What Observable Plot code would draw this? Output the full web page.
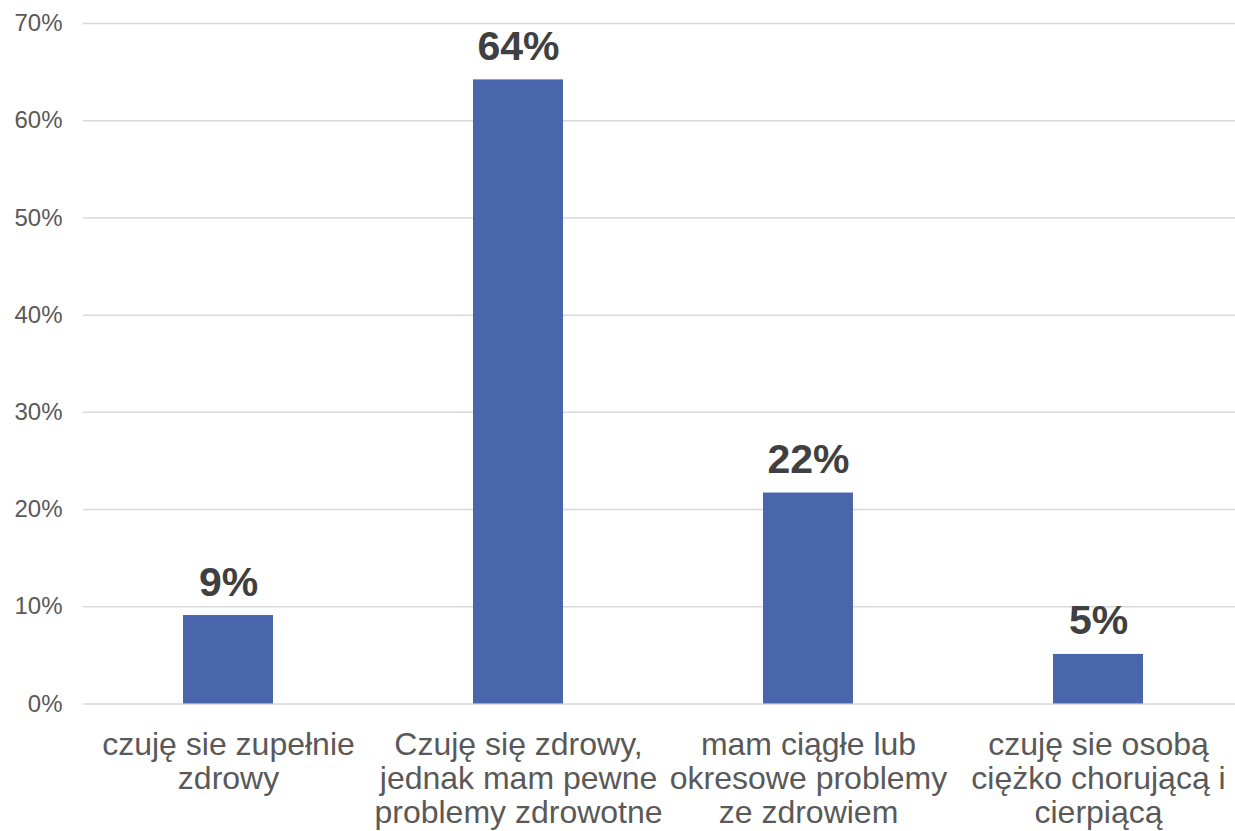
<!DOCTYPE html>
<html lang="pl">
<head>
<meta charset="utf-8">
<script src="https://cdn.jsdelivr.net/npm/d3@7"></script>
<script src="https://cdn.jsdelivr.net/npm/@observablehq/plot@0.6"></script>
<style>
  html, body { margin: 0; padding: 0; background: #fff; overflow: hidden; }
  svg { display: block; }
</style>
</head>
<body>
<div id="chart"></div>
<script>
// Self-assessed health: share of respondents per answer
const categories = [
  "czuję sie zupełnie zdrowy",
  "Czuję się zdrowy, jednak mam pewne problemy zdrowotne",
  "mam ciągłe lub okresowe problemy ze zdrowiem",
  "czuję sie osobą ciężko chorującą i cierpiącą"
];
const tickLabels = [
  "czuję sie zupełnie\nzdrowy",
  "Czuję się zdrowy,\njednak mam pewne\nproblemy zdrowotne",
  "mam ciągłe lub\nokresowe problemy\nze zdrowiem",
  "czuję sie osobą\nciężko chorującą i\ncierpiącą"
];
const values = [9.1, 64.2, 21.7, 5.1];
const yTicks = [0, 10, 20, 30, 40, 50, 60, 70];

const data = categories.map((category, i) => ({category, value: values[i]}));
const wrapped = new Map(categories.map((c, i) => [c, tickLabels[i]]));

const chart = Plot.plot({
  width: 1235,
  height: 831,
  marginLeft: 83,
  marginRight: 0,
  marginTop: 23,
  marginBottom: 127.5,
  style: {fontFamily: "'Liberation Sans', Arial, sans-serif", background: "#fff", overflow: "visible"},
  x: {domain: categories, range: [83, 1243], paddingInner: 0.69, paddingOuter: 0.345, label: null},
  y: {domain: [0, 70], label: null},
  marks: [
    Plot.ruleY(yTicks, {stroke: "#d9d9d9", strokeWidth: 1.5}),
    Plot.barY(data, {x: "category", y: "value", fill: "#4966ac"}),
    Plot.text(data, {
      x: "category",
      y: "value",
      text: d => Math.round(d.value) + "%",
      lineAnchor: "bottom",
      dy: -20,
      fontSize: 41,
      fontWeight: "bold",
      fill: "#404040"
    }),
    Plot.axisY({
      ticks: yTicks,
      tickFormat: d => d + "%",
      tickSize: 0,
      tickPadding: 21,
      fontSize: 24,
      color: "#595959",
      label: null
    }),
    Plot.axisX({
      tickSize: 0,
      tickPadding: 27,
      fontSize: 32,
      lineHeight: 1.06,
      tickFormat: d => wrapped.get(d),
      color: "#595959",
      label: null
    })
  ]
});

document.getElementById("chart").append(chart);
</script>
</body>
</html>
